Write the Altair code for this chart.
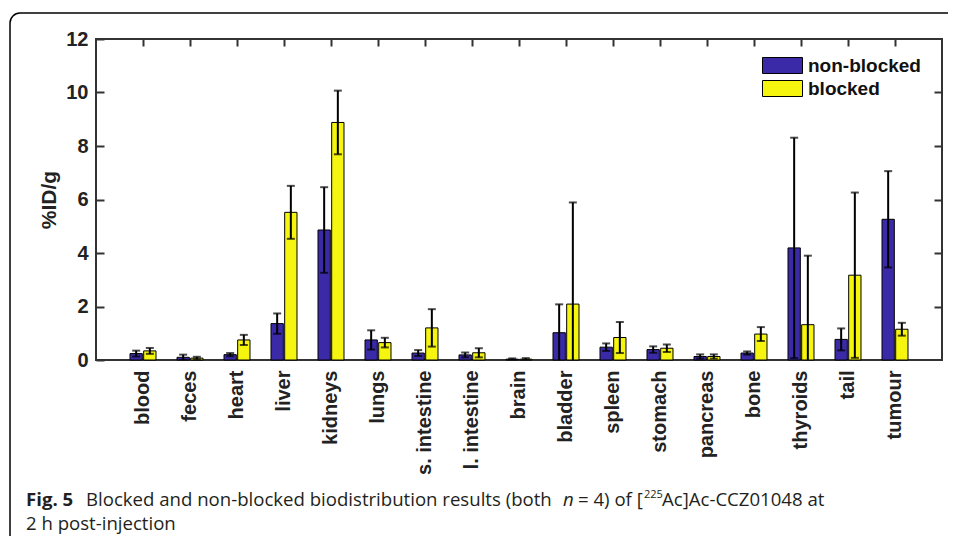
import altair as alt
import pandas as pd
import math

# ---- data ----
organs = ["blood", "feces", "heart", "liver", "kidneys", "lungs", "s. intestine",
          "l. intestine", "brain", "bladder", "spleen", "stomach", "pancreas",
          "bone", "thyroids", "tail", "tumour"]
groups = ["non-blocked", "blocked"]
nb_mean = [0.24, 0.10, 0.20, 1.36, 4.86, 0.75, 0.26, 0.19, 0.03, 1.02, 0.48, 0.39, 0.13, 0.26, 4.19, 0.77, 5.26]
nb_err = [0.11, 0.10, 0.06, 0.38, 1.60, 0.36, 0.11, 0.09, 0.03, 1.06, 0.14, 0.12, 0.08, 0.06, 4.12, 0.41, 1.80]
b_mean = [0.34, 0.07, 0.75, 5.52, 8.88, 0.65, 1.20, 0.27, 0.03, 2.09, 0.84, 0.44, 0.13, 0.97, 1.32, 3.17, 1.15]
b_err = [0.11, 0.05, 0.19, 0.99, 1.19, 0.18, 0.70, 0.17, 0.04, 3.80, 0.58, 0.14, 0.08, 0.26, 2.58, 3.09, 0.24]
y_ticks = [0, 2, 4, 6, 8, 10, 12]
colors = ["#3a2aa8", "#f5f510"]

caption_bold = "Fig. 5"
caption_1a = "Blocked and non-blocked biodistribution results (both"
caption_1b = "n"
caption_1c = "= 4) of ["
caption_sup = "225"
caption_1d = "Ac]Ac-CCZ01048 at"
caption_2 = "2 h post-injection"

rows = []
for i, o in enumerate(organs):
    rows.append({"organ": o, "group": groups[0], "mean": nb_mean[i], "err": nb_err[i]})
    rows.append({"organ": o, "group": groups[1], "mean": b_mean[i], "err": b_err[i]})
df = pd.DataFrame(rows)
df["lo"] = df["mean"] - df["err"]
df["hi"] = df["mean"] + df["err"]

LF = "Liberation Sans, Arial, Helvetica, sans-serif"
CF = "Open Sans, sans-serif"
AX = "#333333"

x_scale = alt.Scale(domain=organs, paddingInner=0.447, paddingOuter=0.7235)
xo_scale = alt.Scale(domain=groups, paddingInner=0.1, paddingOuter=0)
y_scale = alt.Scale(domain=[0, 12], nice=False)

bars = alt.Chart(df).mark_bar(stroke="black", strokeWidth=1).encode(
    x=alt.X("organ:N", scale=x_scale, title=None,
            axis=alt.Axis(orient="bottom", labelAngle=270, labelAlign="right",
                          labelBaseline="middle", labelFont=LF, labelFontSize=20,
                          labelFontWeight="bold", labelColor="#222222", labelPadding=10,
                          ticks=False, domain=False)),
    xOffset=alt.XOffset("group:N", scale=xo_scale),
    y=alt.Y("mean:Q", scale=y_scale, title="%ID/g",
            axis=alt.Axis(orient="left", values=y_ticks, offset=-8, tickSize=8,
                          tickWidth=2, tickColor=AX, domain=False, grid=False,
                          labelPadding=8, labelFont=LF, labelFontSize=20,
                          labelFontWeight="bold", labelColor="#222222",
                          titleFont=LF, titleFontSize=21, titleFontWeight="bold",
                          titleColor="#222222", titlePadding=6)),
    color=alt.Color("group:N", scale=alt.Scale(domain=groups, range=colors),
                    legend=alt.Legend(orient="none", legendX=677, legendY=17, title=None,
                                      symbolType="M-2.5,-1H2.5V1H-2.5Z", symbolSize=256,
                                      symbolStrokeColor="black", symbolStrokeWidth=1,
                                      symbolOpacity=1, labelFont=LF, labelFontSize=19,
                                      labelFontWeight="bold", labelColor="#111111",
                                      labelOffset=16, rowPadding=2, padding=0)),
)

rules = alt.Chart(df).mark_rule(color="black", strokeWidth=2, clip=True).encode(
    x=alt.X("organ:N", scale=x_scale, axis=None),
    xOffset=alt.XOffset("group:N", scale=xo_scale),
    y=alt.Y("lo:Q", scale=y_scale, title=None,
            axis=alt.Axis(orient="right", values=y_ticks[1:-1], offset=-8, tickSize=8,
                          tickWidth=2, tickColor=AX, labels=False, domain=False,
                          grid=False)),
    y2="hi:Q",
)

caps = alt.Chart(df).transform_fold(["lo", "hi"], as_=["end", "val"]).mark_tick(
    color="black", thickness=2, size=8, clip=True
).encode(
    x=alt.X("organ:N", scale=x_scale, title=None,
            axis=alt.Axis(orient="top", offset=-7, tickSize=7, tickWidth=2,
                          tickColor=AX, labels=False, domain=False)),
    xOffset=alt.XOffset("group:N", scale=xo_scale),
    y=alt.Y("val:Q", scale=y_scale, axis=None),
)

# outer figure frame (open on the right and bottom, rounded top-left corner)
one = alt.Data(values=[{"k": 0}])
FX, FY, R = -86, -26, 10
frame_left = alt.Chart(one).mark_rule(color="black", strokeWidth=1.5).encode(
    x=alt.value(FX), y=alt.value(FY + R), y2=alt.value(620))
frame_top = alt.Chart(one).mark_rule(color="black", strokeWidth=1.5).encode(
    x=alt.value(FX + R), x2=alt.value(852), y=alt.value(FY))
frame_corner = alt.Chart(one).mark_arc(
    color="black", radius=R + 0.75, radius2=R - 0.75,
    theta=1.5 * math.pi, theta2=2 * math.pi
).encode(x=alt.value(FX + R), y=alt.value(FY + R))


def txt(s, x, y, size=18.6, weight="normal", style="normal"):
    return alt.Chart(one).mark_text(text=s, align="left", baseline="alphabetic",
                                    font=CF, fontSize=size, fontWeight=weight,
                                    fontStyle=style, color="#231f20").encode(
        x=alt.value(x), y=alt.value(y))


captions = [
    txt(caption_bold, -70, 467, weight="bold"),
    txt(caption_1a, -10, 467),
    txt(caption_1b, 467, 467, style="italic"),
    txt(caption_1c, 482, 467),
    txt(caption_sup, 548, 459, size=11),
    txt(caption_1d, 566, 467),
    txt(caption_2, -70, 491),
]

chart = alt.layer(frame_left, frame_top, frame_corner, bars, rules, caps, *captions).properties(
    width=846, height=321,
    padding={"left": 88, "top": 31, "right": 7, "bottom": 176},
    autosize=alt.AutoSizeParams(type="none"),
).configure_view(stroke=AX, strokeWidth=2)

chart.save("out.html", embed_options={"renderer": "svg", "actions": False})
